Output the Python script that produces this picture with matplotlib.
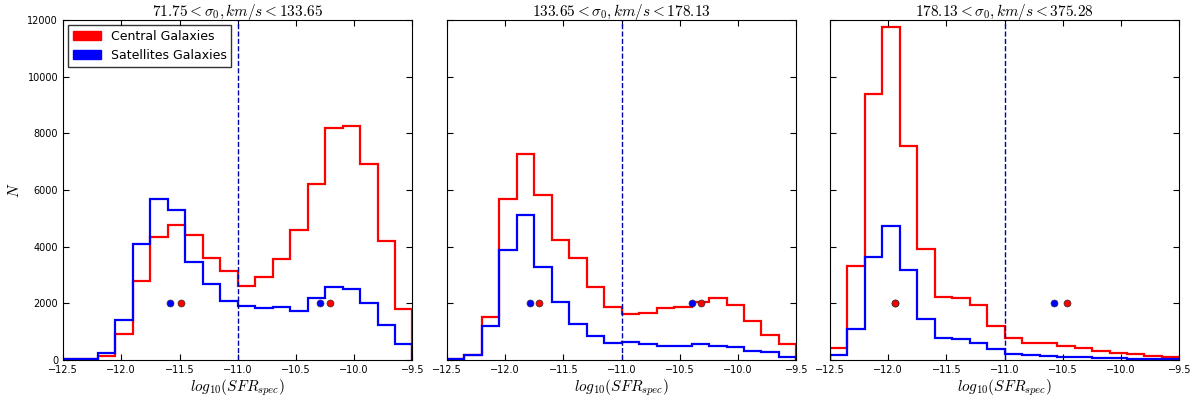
import numpy as np
import matplotlib.pyplot as plt
from matplotlib.patches import Patch

plt.rcParams['mathtext.fontset'] = 'cm'

edges = np.linspace(-12.5, -9.5, 21)
titles = [r'$71.75 < \sigma_0, km/s < 133.65$',
          r'$133.65 < \sigma_0, km/s < 178.13$',
          r'$178.13 < \sigma_0, km/s < 375.28$']

cen_1 = [20, 50, 150, 920, 2800, 4330, 4760, 4400, 3590, 3150,
         2620, 2930, 3580, 4580, 6200, 8180, 8250, 6920, 4210, 1790]
sat_1 = [20, 50, 235, 1410, 4100, 5680, 5290, 3450, 2670, 2090,
         1900, 1850, 1860, 1740, 2180, 2580, 2490, 2020, 1230, 580]
cen_2 = [20, 180, 1530, 5680, 7260, 5830, 4240, 3610, 2590, 1860,
         1620, 1650, 1820, 1860, 2040, 2190, 1940, 1390, 890, 550]
sat_2 = [20, 180, 1210, 3880, 5120, 3290, 2030, 1270, 860, 610,
         650, 550, 510, 490, 560, 490, 450, 320, 270, 120]
cen_3 = [435, 3330, 9390, 11750, 7570, 3900, 2230, 2180, 1940, 1200,
         765, 590, 610, 505, 410, 330, 260, 210, 150, 105]
sat_3 = [175, 1080, 3630, 4740, 3180, 1460, 790, 730, 610, 375,
         210, 165, 140, 120, 95, 70, 60, 50, 35, 25]

# mean positions (low / high SFR side), plotted at N=2000
cen_means = [[-11.49, -10.21], [-11.707, -10.318], [-11.946, -10.465]]
sat_means = [[-11.578, -10.29], [-11.788, -10.40], [-11.946, -10.576]]
cut = -11.0

cens = [cen_1, cen_2, cen_3]
sats = [sat_1, sat_2, sat_3]

fig = plt.figure(figsize=(11.98, 4.07), dpi=100)
lefts = [0.0526, 0.3731, 0.6928]
axes = []
for i in range(3):
    ax = fig.add_axes([lefts[i], 0.1155, 0.2917, 0.8354])
    axes.append(ax)
    ax.stairs(cens[i], edges, color='red', lw=1.6, baseline=0)
    ax.stairs(sats[i], edges, color='blue', lw=1.6, baseline=0)
    ax.axvline(cut, color='#0000aa', ls='--', lw=1)
    ax.plot(sat_means[i], [2000, 2000], 'o', color='blue', ms=5, mec='#333333', mew=0.5)
    ax.plot(cen_means[i], [2000, 2000], 'o', color='red', ms=5, mec='#333333', mew=0.5)
    ax.set_xlim(-12.5, -9.5)
    ax.set_ylim(0, 12000)
    ax.set_xticks(np.arange(-12.5, -9.4, 0.5))
    ax.set_yticks(np.arange(0, 12001, 2000))
    ax.tick_params(direction='in', top=True, right=True, labelsize=7, length=4)
    ax.set_title(titles[i], fontsize=11, pad=3)
    ax.set_xlabel(r'$log_{10}(SFR_{spec})$', fontsize=11, labelpad=2)
    if i > 0:
        ax.set_yticklabels([])

axes[0].set_ylabel(r'$N$', fontsize=11)
handles = [Patch(color='red', label='Central Galaxies'),
           Patch(color='blue', label='Satellites Galaxies')]
leg = axes[0].legend(handles=handles, loc='upper left', fontsize=9, fancybox=False,
                     handlelength=2.2, borderaxespad=0.4)
leg.get_frame().set_edgecolor('black')
leg.get_frame().set_linewidth(1)

fig.savefig('out.png', dpi=100)
